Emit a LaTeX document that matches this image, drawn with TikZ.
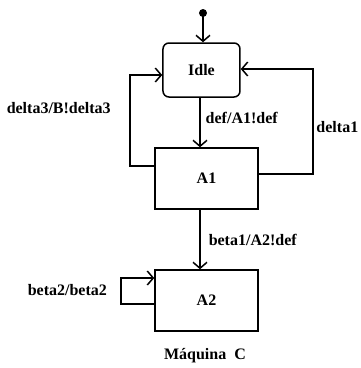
\documentclass[tikz,border=0pt]{standalone}
\usepackage{fontspec}
\setmainfont{Liberation Serif}
\usetikzlibrary{arrows.meta}
\begin{document}
\begin{tikzpicture}[x=1pt,y=-1pt,
  line width=1.5pt,
  txt/.style={font=\fontsize{16}{18}\selectfont\bfseries},
  state/.style={draw,txt,minimum width=103pt,minimum height=61pt,inner sep=0pt},
  lbl/.style={txt,inner sep=0pt},
  arr/.style={-{Straight Barb[length=6pt,width=14pt,line width=1.5pt]}}]
\useasboundingbox (0,0) rectangle (360,368);
\node[state,rounded corners=6pt,minimum width=77pt,minimum height=54pt] (idle) at (201.5,70) {Idle};
\node[state] (a1) at (206.5,178.5) {A1};
\node[state] (a2) at (206.5,300.5) {A2};
\fill (203,13) circle (4pt);
\coordinate (s) at (203,13);
\draw[arr] (s) -- (idle.north -| s);
\draw[arr] (idle.south -| 200,0) -- (a1.north -| 200,0);
\draw[arr] (a1.south -| 200,0) -- (a2.north -| 200,0);
% left loop
\coordinate (l1) at (130,166);
\coordinate (l2) at (130,75);
\draw[arr] (a1.west |- l1) -- (l1) -- (l2) -- (idle.west |- l2);
% right loop
\coordinate (r1) at (313,174);
\coordinate (r2) at (313,69);
\draw[arr] (a1.east |- r1) -- (r1) -- (r2) -- (idle.east |- r2);
% self loop on A2
\coordinate (b1) at (121,304);
\coordinate (b2) at (121,278);
\draw[arr] (a2.west |- b1) -- (b1) -- (b2) -- (a2.west |- b2);
\node[lbl,anchor=west] (l_def) at (205,118) {def/A1!def};
\node[lbl,anchor=west] (l_d3) at (6,108) {delta3/B!delta3};
\node[lbl,anchor=east] (l_d1) at (359,127) {delta1};
\node[lbl,anchor=west] (l_b1) at (208,240) {beta1/A2!def};
\node[lbl,anchor=west] (l_b2) at (27,290) {beta2/beta2};
\node[lbl] (cap) at (205,356) {Máquina\ \ C};
\end{tikzpicture}
\end{document}
